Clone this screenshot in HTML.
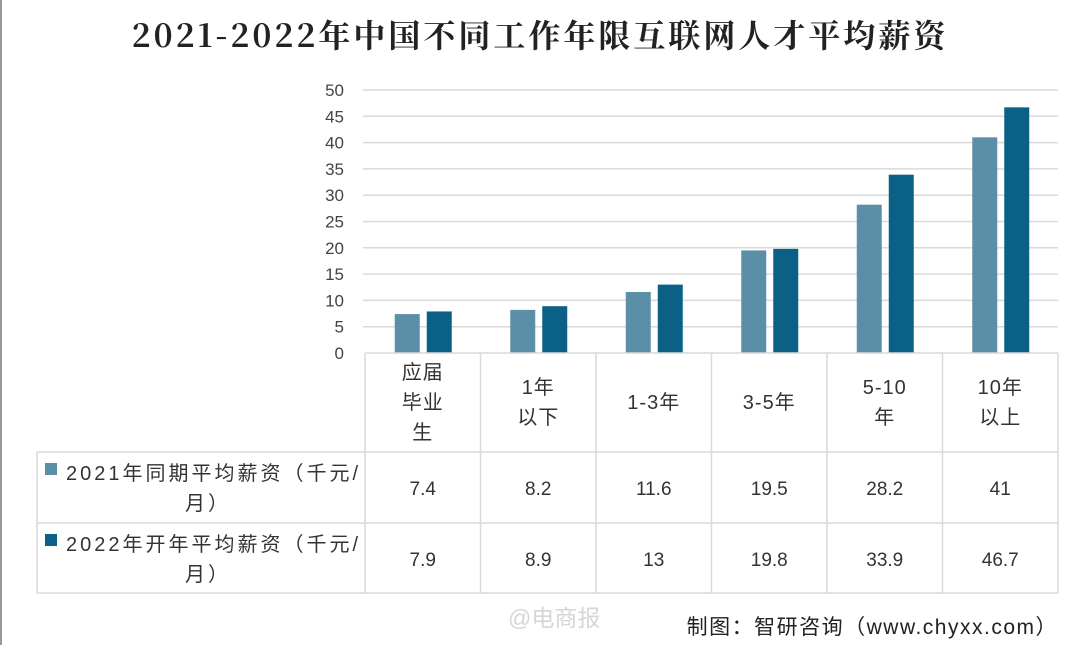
<!DOCTYPE html>
<html><head><meta charset="utf-8"><style>
html,body{margin:0;padding:0;background:#fff;}
svg{display:block;font-family:"Liberation Sans","Noto Sans CJK SC",sans-serif;}
</style></head><body>
<svg id="chart" width="1080" height="645" viewBox="0 0 1080 645">
<line x1="1" y1="0" x2="1" y2="645" stroke="#999" stroke-width="2"/>
<text x="540" y="47" text-anchor="middle" font-size="32" letter-spacing="3" font-weight="bold" fill="#222" font-family="'Noto Serif CJK SC','Liberation Serif',serif">2021-2022年中国不同工作年限互联网人才平均薪资</text>
<g id="grid"></g><g id="yticks"></g><g id="bars"></g><g id="table"></g>
<text x="508" y="626" font-size="23" fill="#d6d6d6">@电商报</text>
<text x="1058" y="634" text-anchor="end" font-size="21" letter-spacing="1.5" fill="#222">制图：智研咨询（www.chyxx.com）</text>
</svg>
<script>
const categories=[["应届","毕业","生"],["1年","以下"],["1-3年"],["3-5年"],["5-10","年"],["10年","以上"]];
const series2021=[7.4,8.2,11.6,19.5,28.2,41];
const series2022=[7.9,8.9,13,19.8,33.9,46.7];
const seriesNames=["2021年同期平均薪资（千元/","2022年开年平均薪资（千元/"];
const yTicks=[0,5,10,15,20,25,30,35,40,45,50];
const colors=["#5b8fa8","#0a6185"];
const NS="http://www.w3.org/2000/svg";
const X0=365,X1=1058,Y0=353,Y50=90;
const colW=(X1-X0)/categories.length;
const y=v=>Y0-(v/50)*(Y0-Y50);
function mk(tag,attrs,parent,txt){const e=document.createElementNS(NS,tag);for(const k in attrs)e.setAttribute(k,attrs[k]);if(txt!==undefined)e.textContent=txt;parent.appendChild(e);return e;}
const grid=document.getElementById('grid'),yt=document.getElementById('yticks'),bars=document.getElementById('bars'),tb=document.getElementById('table');
yTicks.forEach(t=>{
  if(t>0){const l=mk('line',{x1:X0-2,x2:X1,y1:y(t),y2:y(t),stroke:'#d9d9d9','stroke-width':1.5},grid);
  
  }
  const tx=mk('text',{x:344,y:y(t)+6,'text-anchor':'end','font-size':17,fill:'#444'},yt,String(t));
  
  
});
[series2021,series2022].forEach((s,si)=>{
  s.forEach((v,i)=>{
    const cx=X0+colW*i+colW/2;
    const bx=si===0?cx-28:cx+4;
    const r=mk('rect',{x:bx,y:y(v),width:25,height:Y0-y(v),fill:colors[si]},bars);
    
    
  });
});
const lc='#d9d9d9';
const hl=[[X0,X1,Y0],[37,X1,452],[37,X1,523],[37,X1,593]];
hl.forEach(h=>{const l=mk('line',{x1:h[0],x2:h[1],y1:h[2],y2:h[2],stroke:lc,'stroke-width':1.5},tb);

});
for(let i=0;i<=categories.length;i++){const x=X0+colW*i;
const l=mk('line',{x1:x,x2:x,y1:Y0,y2:593,stroke:lc,'stroke-width':1.5},tb);

}
const l0=mk('line',{x1:37,x2:37,y1:452,y2:593,stroke:lc,'stroke-width':1.5},tb);


categories.forEach((c,i)=>{
  const cx=X0+colW*i+colW/2;
  const startY=402-(c.length-1)*15+7;
  c.forEach((line,j)=>{const t=mk('text',{x:cx,y:startY+j*30,'text-anchor':'middle','font-size':20,'letter-spacing':1,fill:'#333'},tb,line);
  
  });
});
[series2021,series2022].forEach((s,si)=>{
  const rowY=si===0?452:523;
  const sw=mk('rect',{x:45,y:rowY+11,width:12,height:12,fill:colors[si]},tb);
  
  
  const n=mk('text',{x:66,y:rowY+28,'font-size':20,'letter-spacing':3,fill:'#333'},tb,seriesNames[si]);
  
  
  const n2=mk('text',{x:208,y:rowY+58,'text-anchor':'middle','font-size':20,'letter-spacing':3,fill:'#333'},tb,'月）');
  
  
  s.forEach((v,i)=>{const t=mk('text',{x:X0+colW*i+colW/2,y:rowY+43,'text-anchor':'middle','font-size':19,fill:'#333'},tb,String(v));
  
  });
});
</script>
</body></html>
